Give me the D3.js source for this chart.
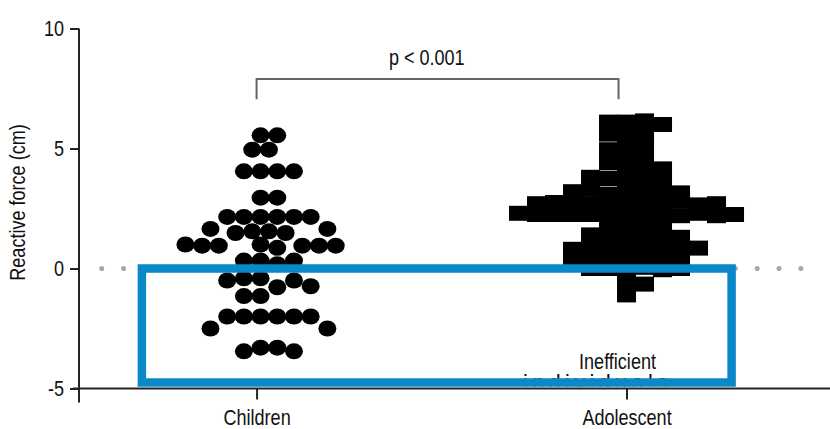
<!DOCTYPE html>
<html>
<head>
<meta charset="utf-8">
<script src="https://cdn.jsdelivr.net/npm/d3@7"></script>
<style>
  html, body { margin: 0; padding: 0; background: #fff; }
  svg { display: block; font-family: "Liberation Sans", Arial, sans-serif; }
</style>
</head>
<body>
<svg id="chart" width="830" height="429"></svg>
<script>
'use strict';

/* global d3 */

var groups = ['Children', 'Adolescent'];
var yTicks = [-5, 0, 5, 10];
var yTitle = 'Reactive force (cm)';
var pLabel = 'p < 0.001';
var zoneLabel = ['Inefficient', 'individuals'];

// reactive force per subject (cm)
var childrenValues = [
    5.55, 5.55,
    4.95, 4.95,
    4.05, 4.05, 4.05, 4.05,
    2.95, 2.95,
    2.15, 2.15, 2.15, 2.15, 2.15, 2.15,
    1.65, 1.55, 1.55, 1.48, 1.48, 1.65,
    1.0, 0.86, 0.95, 0.95, 0.95, 0.95, 0.95, 1.0,
    0.33, 0.33, 0.33, 0.18,
    -0.41, -0.41, -0.78,
    -0.5, -0.5, -0.74,
    -1.15, -1.15,
    -2.0, -2.0, -2.0, -2.0, -2.0, -2.0,
    -2.5, -2.5,
    -3.3, -3.3, -3.45, -3.45
];

var adolescentValues = [
    6.1, 6.15, 6.1, 6.0, 5.8,
    5.5, 5.6, 5.45,
    5.0, 5.1, 4.95,
    4.5, 4.55, 4.4,
    4.1, 4.0, 4.15,
    3.7, 3.75, 3.65, 3.7, 3.8,
    3.2, 3.25, 3.1, 3.2, 3.3, 3.15, 3.2,
    2.7, 2.75, 2.7, 2.65, 2.7, 2.8, 2.7, 2.65, 2.75, 2.7, 2.7,
    2.25, 2.2, 2.25, 2.3, 2.25, 2.2, 2.25, 2.3, 2.25, 2.2, 2.25, 2.25, 2.3,
    1.8, 1.85, 1.75, 1.8,
    1.3, 1.35, 1.25, 1.3, 1.4, 1.3,
    0.85, 0.9, 0.8, 0.85, 0.95, 0.85, 0.8, 0.85,
    0.4, 0.45, 0.35, 0.4, 0.45, 0.4, 0.35,
    0.0, 0.05, 0.0, -0.05, 0.0, 0.0,
    -0.6, -0.65,
    -1.1
];

var svg = d3.select('#chart');

var x = d3.scaleLinear().domain([-0.48, 1.55]).range([79, 830]);
var y = d3.scaleLinear().domain([-5, 10]).range([388.5, 28.5]);

var fontSize = 22,
    squeeze = 0.82,     // narrow face look
    axisColor = '#222',
    inkColor = '#111',
    blue = '#0a88c9';

// dotted reference line at zero
svg.append('line')
    .attr('x1', 101.7).attr('x2', 802)
    .attr('y1', y(0)).attr('y2', y(0))
    .attr('stroke', '#a3a7ad')
    .attr('stroke-width', 5)
    .attr('stroke-linecap', 'round')
    .attr('stroke-dasharray', '0 21.85');

/**
 * Simple beeswarm: each point keeps its value and slides sideways
 * (half a slot at a time) until it stops hitting the points already placed.
 */
function swarm(values, cx, w, h, round) {
    var placed = [];

    values.forEach(function(v) {
        var py = y(v);
        for(var k = 0; k < 200; k++) {
            var off = (k % 2 ? 1 : -1) * Math.ceil(k / 2) * w / 2;
            var hit = placed.some(function(p) {
                var dx = (p.x - (cx + off)) / w,
                    dy = (p.y - py) / h;
                if(round) return dx * dx + dy * dy < 0.999;
                return Math.abs(dx) < 0.999 && Math.abs(dy) < 0.999;
            });
            if(!hit) {
                placed.push({x: cx + off, y: py, v: v});
                break;
            }
        }
    });

    return placed;
}

var kids = swarm(childrenValues, x(0) + 4, 16.7, 15, true);
var teens = swarm(adolescentValues, x(1), 18, 8, false);

svg.append('g')
    .selectAll('ellipse')
        .data(kids)
    .enter().append('ellipse')
    .attr('cx', function(d) { return d.x; })
    .attr('cy', function(d) { return d.y; })
    .attr('rx', 9)
    .attr('ry', 8)
    .attr('fill', '#000');

svg.append('g')
    .selectAll('rect')
        .data(teens)
    .enter().append('rect')
    .attr('x', function(d) { return d.x - 9.5; })
    .attr('y', function(d) { return d.y - 7.5; })
    .attr('width', 19)
    .attr('height', 15)
    .attr('fill', '#000');

// "inefficient" zone label, second line sits behind the box edge
svg.append('clipPath')
    .attr('id', 'plotclip')
    .append('rect')
    .attr('x', 0).attr('y', 0)
    .attr('width', 830).attr('height', y(-5) - 2);

var zone = svg.append('g')
    .attr('clip-path', 'url(#plotclip)')
    .attr('font-size', fontSize)
    .attr('fill', inkColor);

zone.append('text')
    .attr('x', x(1) - 9)
    .attr('y', y(-4.2))
    .attr('text-anchor', 'middle')
    .text(zoneLabel[0]);

zone.append('text')
    .attr('x', x(1) - 31)
    .attr('y', y(-5.05))
    .attr('text-anchor', 'middle')
    .attr('textLength', 145)
    .attr('lengthAdjust', 'spacing')
    .text(zoneLabel[1]);

// box around the inefficient area
var boxX0 = x(-0.31),
    boxX1 = x(1.284);

svg.append('rect')
    .attr('x', boxX0)
    .attr('y', y(0))
    .attr('width', boxX1 - boxX0)
    .attr('height', y(-4.75) - y(0))
    .attr('fill', 'none')
    .attr('stroke', blue)
    .attr('stroke-width', 8.5);

// significance bracket
var brTop = y(7.9),
    brBot = y(7.05);

svg.append('path')
    .attr('d', 'M' + x(0) + ',' + brBot + 'V' + brTop +
        'H' + (x(1) - 8) + 'V' + brBot)
    .attr('fill', 'none')
    .attr('stroke', '#666')
    .attr('stroke-width', 2);

svg.append('text')
    .attr('x', x(0.46))
    .attr('y', y(8.5))
    .attr('text-anchor', 'middle')
    .attr('font-size', fontSize)
    .attr('fill', inkColor)
    .text(pLabel);

// axes
var yAxis = svg.append('g')
    .attr('transform', 'translate(' + x.range()[0] + ',0)')
    .call(d3.axisLeft(y).tickValues(yTicks).tickSize(9).tickPadding(6)
        .tickFormat(function(d) { return String(d); }));

yAxis.select('.domain').remove();
yAxis.append('line')
    .attr('y1', y(10)).attr('y2', y(-5) + 14)
    .attr('stroke', axisColor)
    .attr('stroke-width', 2);

var xAxis = svg.append('g')
    .attr('transform', 'translate(0,' + y(-5) + ')')
    .call(d3.axisBottom(x).tickValues([0, 1])
        .tickFormat(function(i) { return groups[i]; })
        .tickSize(11).tickPadding(10));

xAxis.select('.domain').remove();
xAxis.append('line')
    .attr('x1', x.range()[0] - 6).attr('x2', x.range()[1])
    .attr('stroke', axisColor)
    .attr('stroke-width', 2);

[yAxis, xAxis].forEach(function(ax) {
    ax.attr('font-family', null).attr('font-size', null);
    ax.selectAll('.tick line')
        .attr('stroke', axisColor)
        .attr('stroke-width', 2);
    ax.selectAll('.tick text')
        .attr('font-size', fontSize)
        .attr('fill', inkColor);
});

svg.append('text')
    .attr('transform', 'translate(25,' + y(2.75) + ') rotate(-90)')
    .attr('text-anchor', 'middle')
    .attr('font-size', fontSize)
    .attr('fill', inkColor)
    .text(yTitle);

// squeeze every label so the regular face reads like the narrow one
svg.selectAll('text').each(function() {
    if(this.hasAttribute('textLength')) return;
    this.setAttribute('textLength', this.getComputedTextLength() * squeeze);
    this.setAttribute('lengthAdjust', 'spacingAndGlyphs');
});
</script>
</body>
</html>
